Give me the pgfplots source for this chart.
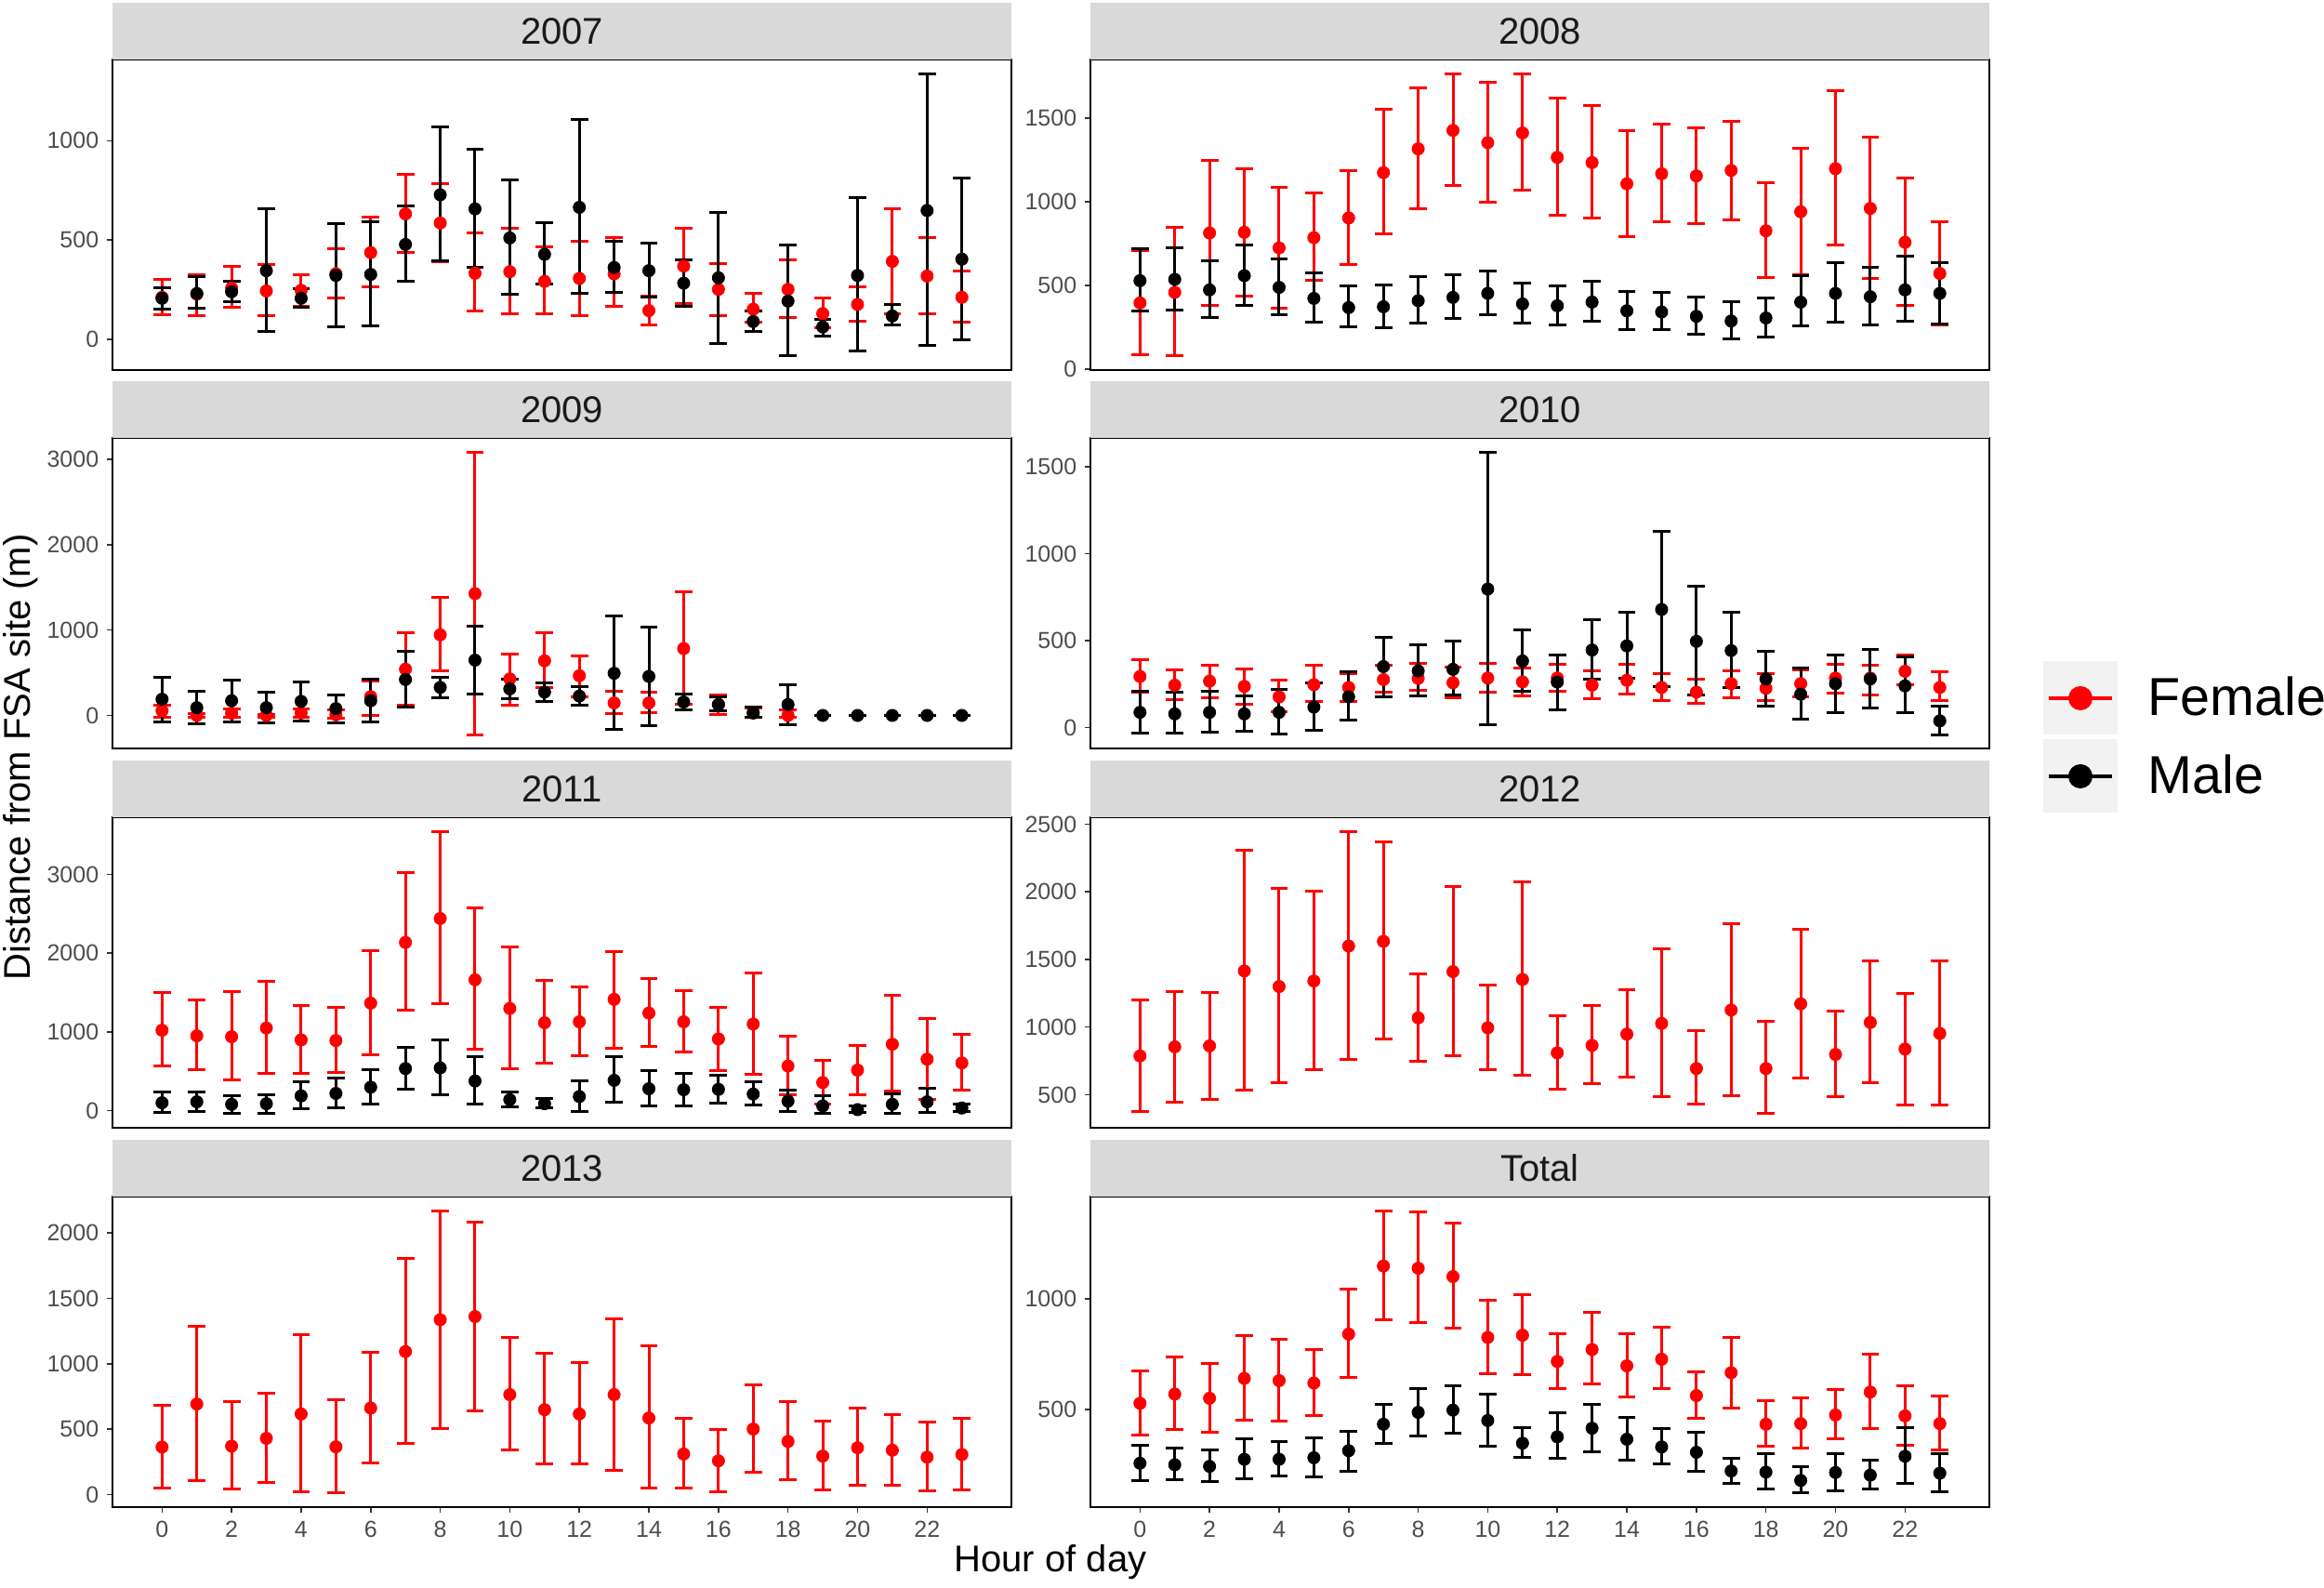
\documentclass[border=0pt]{standalone}
\usepackage{pgfplots}
\usepackage{pgfplotstable}
\usepackage{fontspec}
\setmainfont{Liberation Sans}
\pgfplotsset{compat=1.18}
\definecolor{stripgray}{HTML}{D9D9D9}
\definecolor{labgray}{HTML}{4D4D4D}
\definecolor{striptext}{HTML}{1A1A1A}
\definecolor{keybg}{HTML}{F2F2F2}
\definecolor{fem}{HTML}{FF0000}

% ---------------- data: hour, mean, lower, upper ----------------
\pgfplotstableread{
h m lo hi
0 212 126 303
1 228 121 325
2 259 162 366
3 244 121 376
4 247 165 325
5 331 207 456
6 437 267 618
7 632 437 830
8 586 390 784
9 333 145 538
10 341 130 561
11 292 127 464
12 307 121 495
13 330 168 514
14 145 75 217
15 369 181 561
16 252 121 384
17 152 85 233
18 252 110 401
19 130 58 209
20 176 90 267
21 393 130 659
22 319 127 511
23 212 85 344
}\FsevenF
\pgfplotstableread{
h m lo hi
0 207 152 262
1 231 157 314
2 240 192 294
3 346 38 659
4 207 162 255
5 322 63 585
6 327 68 591
7 478 294 670
8 728 396 1069
9 657 365 959
10 511 225 805
11 428 277 586
12 665 234 1105
13 362 237 495
14 346 212 484
15 283 168 401
16 310 -20 637
17 90 42 141
18 193 -83 475
19 63 16 102
20 322 -58 714
21 118 71 178
22 649 -31 1338
23 404 0 811
}\FsevenM
\pgfplotstableread{
h m lo hi
0 395 84 709
1 458 78 845
2 813 380 1245
3 817 435 1198
4 724 361 1085
5 785 528 1050
6 903 627 1187
7 1174 808 1554
8 1316 957 1681
9 1426 1096 1761
10 1353 996 1714
11 1411 1068 1766
12 1265 919 1617
13 1234 903 1573
14 1107 793 1427
15 1167 882 1461
16 1154 871 1444
17 1187 893 1483
18 826 547 1113
19 940 562 1321
20 1197 739 1664
21 960 543 1385
22 757 382 1139
23 571 265 878
}\EightF
\pgfplotstableread{
h m lo hi
0 528 344 720
1 536 355 726
2 473 309 646
3 558 380 744
4 488 324 659
5 422 279 575
6 367 251 499
7 372 246 502
8 408 275 551
9 428 303 562
10 452 322 588
11 389 275 515
12 378 264 499
13 400 283 527
14 348 236 465
15 341 233 458
16 315 210 430
17 287 181 404
18 305 192 426
19 400 257 558
20 452 279 633
21 432 264 609
22 473 283 674
23 452 270 636
}\EightM
\pgfplotstableread{
h m lo hi
0 55 -18 117
1 0 -20 20
2 26 -26 73
3 0 -25 15
4 29 -18 73
5 7 -29 62
6 220 0 402
7 542 115 970
8 944 520 1383
9 1427 -227 3081
10 428 121 721
11 640 329 970
12 465 220 695
13 146 26 282
14 146 37 267
15 783 128 1453
16 128 7 245
17 30 -26 90
18 0 -18 62
}\NineF
\pgfplotstableread{
h m lo hi
0 190 -73 450
1 91 -99 282
2 172 -73 413
3 91 -91 267
4 165 -62 392
5 80 -84 245
6 172 -73 421
7 421 99 757
8 329 212 450
9 648 249 1050
10 311 201 428
11 274 165 384
12 227 117 337
13 494 -165 1164
14 457 -117 1032
15 157 62 249
16 128 55 220
17 29 -18 99
18 128 -110 359
19 0 -5 5
20 0 -5 5
21 0 -5 5
22 0 -5 5
23 0 -5 5
}\NineM
\pgfplotstableread{
h m lo hi
0 294 204 392
1 244 159 330
2 267 174 360
3 237 136 335
4 177 93 272
5 247 151 357
6 231 151 312
7 276 204 357
8 283 213 369
9 258 172 348
10 285 204 371
11 263 183 342
12 285 210 366
13 244 168 326
14 272 192 362
15 231 154 308
16 204 142 280
17 253 172 326
18 226 154 308
19 253 177 330
20 285 201 362
21 285 190 357
22 324 249 416
23 231 156 321
}\TenF
\pgfplotstableread{
h m lo hi
0 88 -29 210
1 79 -32 204
2 88 -25 210
3 79 -20 183
4 88 -38 222
5 118 -14 258
6 177 43 321
7 351 177 518
8 326 183 477
9 335 190 496
10 796 16 1581
11 383 208 563
12 262 102 419
13 446 281 620
14 470 285 661
15 679 235 1127
16 496 190 814
17 443 228 661
18 280 124 441
19 192 48 342
20 253 88 419
21 280 115 452
22 240 84 405
23 39 -41 124
}\TenM
\pgfplotstableread{
h m lo hi
0 1021 566 1496
1 950 522 1405
2 938 384 1516
3 1049 467 1642
4 898 475 1334
5 890 483 1306
6 1365 704 2030
7 2137 1274 3019
8 2441 1353 3549
9 1662 780 2580
10 1298 534 2077
11 1116 601 1650
12 1128 692 1571
13 1413 791 2026
14 1239 819 1674
15 1128 740 1523
16 910 506 1306
17 1100 455 1753
18 566 198 942
19 356 87 633
20 514 198 831
21 843 245 1464
22 653 146 1167
23 605 257 969
}\ElevenF
\pgfplotstableread{
h m lo hi
0 99 -28 237
1 111 -12 237
2 79 -40 190
3 87 -40 206
4 186 20 364
5 218 32 408
6 297 87 522
7 534 277 799
8 542 206 902
9 376 79 681
10 138 47 237
11 87 40 158
12 178 -8 376
13 384 111 681
14 277 59 503
15 265 59 475
16 269 99 443
17 210 67 364
18 119 -12 257
19 59 -32 186
20 12 -28 59
21 79 -32 210
22 111 -28 285
23 32 -8 87
}\ElevenM
\pgfplotstableread{
h m lo hi
0 787 376 1200
1 854 445 1263
2 861 468 1253
3 1415 533 2304
4 1300 591 2023
5 1341 687 2008
6 1599 764 2447
7 1634 911 2368
8 1068 750 1396
9 1410 791 2039
10 995 683 1311
11 1352 646 2073
12 810 544 1085
13 865 584 1161
14 948 630 1276
15 1027 484 1576
16 694 431 971
17 1126 496 1766
18 694 360 1045
19 1172 623 1722
20 798 489 1119
21 1034 591 1491
22 838 427 1249
23 953 427 1491
}\TwelveF
\pgfplotstableread{
h m lo hi
0 363 48 685
1 692 107 1284
2 370 41 714
3 430 91 778
4 616 21 1222
5 365 12 726
6 661 239 1088
7 1093 389 1802
8 1337 508 2170
9 1361 637 2086
10 764 339 1201
11 649 232 1079
12 616 232 1007
13 764 184 1344
14 585 48 1136
15 310 48 582
16 258 24 494
17 501 172 840
18 406 115 709
19 294 36 563
20 358 69 661
21 339 72 611
22 286 26 554
23 306 36 585
}\ThirteenF
\pgfplotstableread{
h m lo hi
0 527 385 673
1 569 408 739
2 550 397 708
3 640 449 836
4 630 446 817
5 619 472 771
6 841 643 1044
7 1150 904 1401
8 1140 892 1395
9 1102 868 1343
10 826 663 993
11 836 659 1020
12 717 596 844
13 771 613 938
14 697 558 841
15 727 592 871
16 562 458 671
17 666 507 827
18 432 333 540
19 435 326 551
20 474 364 589
21 578 412 748
22 470 336 606
23 435 314 559
}\TotalF
\pgfplotstableread{
h m lo hi
0 255 176 337
1 248 180 322
2 241 170 316
3 273 184 368
4 273 198 354
5 280 194 371
6 312 220 401
7 432 346 521
8 486 380 595
9 496 392 606
10 449 333 569
11 346 280 415
12 375 276 484
13 414 309 521
14 364 269 463
15 329 252 411
16 305 217 394
17 220 163 279
18 215 139 297
19 177 120 238
20 213 130 297
21 201 139 269
22 287 163 415
23 210 125 300
}\TotalM

\pgfplotsset{
  panel/.style={
    scale only axis, width=386.8pt, height=133.6pt,
    xmin=-1.425, xmax=24.425,
    axis line style={black, line width=0.8pt},
    tick pos=left, tick align=outside, major tick length=2.4pt,
    tick style={black!80, line width=0.6pt},
    xtick=\empty,
    scaled y ticks=false,
    /pgf/number format/assume math mode=true,
    /pgf/number format/1000 sep={},
    yticklabel style={font=\fontsize{10}{12}\selectfont, text=labgray},
    xticklabel style={font=\fontsize{10}{12}\selectfont, text=labgray},
    clip=false,
  },
  bottompanel/.style={xtick={0,2,...,22}},
  legkey/.style={legend image code/.code={
    \fill[keybg] (0pt,-15.6pt) rectangle (31.6pt,15.6pt);
    \draw[#1, line width=1.6pt] (2.2pt,0pt) -- (29.4pt,0pt);
    \fill[#1] (15.8pt,0pt) circle (5pt);}},
}
\newcommand{\errs}[2]{\addplot[forget plot, only marks, mark=none,
   error bars/.cd, y dir=both, y explicit,
   error bar style={line width=1.2pt, #2},
   error mark options={rotate=90, mark size=3.75pt, line width=1.2pt, #2}]
   table[x=h, y=m, y error plus expr=\thisrow{hi}-\thisrow{m},
         y error minus expr=\thisrow{m}-\thisrow{lo}] {#1};}
\newcommand{\pts}[2]{\addplot[forget plot, color=#2, only marks, mark=*, mark size=2.6pt,
   mark options={solid, draw=#2, fill=#2, line width=0.4pt}] table[x=h, y=m] {#1};}
\newcommand{\strip}[2]{%
  \fill[stripgray] (#1.north west) rectangle ([yshift=24.4pt]#1.north east);
  \node[font=\fontsize{16}{19}\selectfont, text=striptext] at ([yshift=12.2pt]#1.north) {#2};}

\begin{document}
\begin{tikzpicture}
\useasboundingbox (0,0) rectangle (1000pt,682.8pt);

% 2007
\begin{axis}[panel, name=a1, at={(48.4pt,657.2pt)}, anchor=north west,
  ymin=-154, ymax=1409, ytick={0,500,1000}]
\errs{\FsevenF}{fem}\errs{\FsevenM}{black}
\pts{\FsevenF}{fem}\pts{\FsevenM}{black}
\end{axis}
\strip{a1}{2007}

% 2008
\begin{axis}[panel, name=a2, at={(469.2pt,657.2pt)}, anchor=north west,
  ymin=-6, ymax=1850, ytick={0,500,1000,1500}]
\errs{\EightF}{fem}\errs{\EightM}{black}
\pts{\EightF}{fem}\pts{\EightM}{black}
\end{axis}
\strip{a2}{2008}

% 2009
\begin{axis}[panel, name=a3, at={(48.4pt,494.2pt)}, anchor=north west,
  ymin=-392, ymax=3246, ytick={0,1000,2000,3000}]
\errs{\NineF}{fem}\errs{\NineM}{black}
\pts{\NineF}{fem}\pts{\NineM}{black}
\end{axis}
\strip{a3}{2009}

% 2010 (carries the legend)
\begin{axis}[panel, name=a4, at={(469.2pt,494.2pt)}, anchor=north west,
  ymin=-122, ymax=1662, ytick={0,500,1000,1500},
  legend style={at={(axis description cs:1.0594,0.283)}, anchor=north west,
    draw=none, fill=none, inner sep=0pt, row sep=2pt,
    font=\fontsize{23}{27}\selectfont,
    nodes={inner sep=0pt},
    /tikz/every odd column/.append style={column sep=13pt}},
  legend cell align=left]
\errs{\TenF}{fem}\errs{\TenM}{black}
\addplot[color=fem, only marks, mark=*, mark size=2.6pt,
  mark options={solid, draw=fem, fill=fem, line width=0.4pt}, legkey=fem]
  table[x=h, y=m] {\TenF};
\addlegendentry{Female}
\addplot[color=black, only marks, mark=*, mark size=2.6pt,
  mark options={solid, draw=black, fill=black, line width=0.4pt}, legkey=black]
  table[x=h, y=m] {\TenM};
\addlegendentry{Male}
\end{axis}
\strip{a4}{2010}

% 2011
\begin{axis}[panel, name=a5, at={(48.4pt,331.2pt)}, anchor=north west,
  ymin=-219, ymax=3728, ytick={0,1000,2000,3000}]
\errs{\ElevenF}{fem}\errs{\ElevenM}{black}
\pts{\ElevenF}{fem}\pts{\ElevenM}{black}
\end{axis}
\strip{a5}{2011}

% 2012
\begin{axis}[panel, name=a6, at={(469.2pt,331.2pt)}, anchor=north west,
  ymin=256, ymax=2551, ytick={500,1000,1500,2000,2500}]
\errs{\TwelveF}{fem}
\pts{\TwelveF}{fem}
\end{axis}
\strip{a6}{2012}

% 2013
\begin{axis}[panel, bottompanel, name=a7, at={(48.4pt,168pt)}, anchor=north west,
  ymin=-96, ymax=2278, ytick={0,500,1000,1500,2000}]
\errs{\ThirteenF}{fem}
\pts{\ThirteenF}{fem}
\end{axis}
\strip{a7}{2013}

% Total
\begin{axis}[panel, bottompanel, name=a8, at={(469.2pt,168pt)}, anchor=north west,
  ymin=56, ymax=1465, ytick={500,1000}]
\errs{\TotalF}{fem}\errs{\TotalM}{black}
\pts{\TotalF}{fem}\pts{\TotalM}{black}
\end{axis}
\strip{a8}{Total}

\node[font=\fontsize{16}{19}\selectfont, text=black] at (452pt,10.8pt) {Hour of day};
\node[font=\fontsize{16}{19}\selectfont, text=black, rotate=90] at (8.8pt,357pt) {Distance from FSA site (m)};
\end{tikzpicture}
\end{document}
